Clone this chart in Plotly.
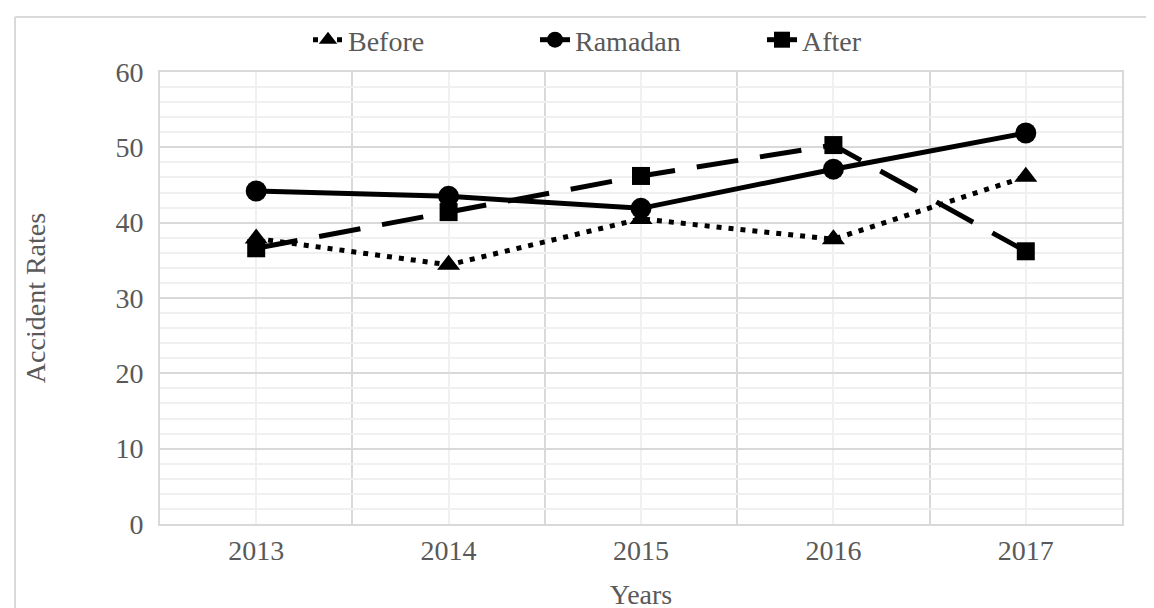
import plotly.graph_objects as go

years = [2013, 2014, 2015, 2016, 2017]
before = [37.9, 34.4, 40.5, 37.8, 46.1]
ramadan = [44.2, 43.5, 41.9, 47.1, 51.9]
after = [36.6, 41.4, 46.2, 50.3, 36.2]
y_ticks = [0, 10, 20, 30, 40, 50, 60]

FONT = "Liberation Serif"
GREY = "#595959"

W, H = 1154, 608
L, R, T, B = 152, 40, 64, 92
pw, ph = W - L - R, H - T - B

fig = go.Figure()
fig.add_trace(go.Scatter(
    x=years, y=before, name="Before", mode="lines+markers",
    line=dict(color="black", width=5, dash="5px,7px"),
    marker=dict(symbol="triangle-up", size=20, color="black")))
fig.add_trace(go.Scatter(
    x=years, y=ramadan, name="Ramadan", mode="lines+markers",
    line=dict(color="black", width=5),
    marker=dict(symbol="circle", size=21, color="black")))
fig.add_trace(go.Scatter(
    x=years, y=after, name="After", mode="lines+markers",
    line=dict(color="black", width=5, dash="42px,22px"),
    marker=dict(symbol="square", size=18, color="black")))

# outer frame (left and top edges)
fig.add_shape(type="line", xref="paper", yref="paper",
              x0=(7 - L) / pw, x1=(7 - L) / pw,
              y0=1 + (T - 9) / ph, y1=-(B + 5) / ph,
              line=dict(color="#d9d9d9", width=2))
fig.add_shape(type="line", xref="paper", yref="paper",
              x0=(7 - L) / pw, x1=1 + (R + 5) / pw,
              y0=1 + (T - 9) / ph, y1=1 + (T - 9) / ph,
              line=dict(color="#d9d9d9", width=2))

fig.update_layout(
    width=W, height=H,
    margin=dict(l=L, r=R, t=T, b=B, autoexpand=False),
    paper_bgcolor="white", plot_bgcolor="white",
    font=dict(family=FONT, size=28, color=GREY),
    showlegend=True,
    legend=dict(orientation="h", x=(300 - L) / pw, xanchor="left",
                y=1 + (T - 32) / ph, yanchor="middle",
                font=dict(family=FONT, size=28, color=GREY),
                itemwidth=30, entrywidth=182, entrywidthmode="pixels",
                bgcolor="rgba(0,0,0,0)"),
)
fig.update_xaxes(
    range=[2012.5, 2017.5], tickmode="array", tickvals=years,
    ticktext=[str(y) for y in years],
    showgrid=True, gridcolor="#f0f0f0", gridwidth=2,
    minor=dict(tickmode="linear", tick0=2012.5, dtick=1, showgrid=True,
               gridcolor="#d9d9d9", gridwidth=2),
    showline=True, linecolor="#d9d9d9", linewidth=2, mirror=True,
    zeroline=False, ticks="", automargin=False,
    tickfont=dict(family=FONT, size=28, color=GREY),
    title=dict(text="Years", font=dict(family=FONT, size=28, color=GREY), standoff=20),
)
fig.update_yaxes(
    range=[0, 60], tickmode="array", tickvals=y_ticks,
    showgrid=True, gridcolor="#d9d9d9", gridwidth=2,
    minor=dict(tickmode="linear", tick0=0, dtick=2, showgrid=True,
               gridcolor="#f0f0f0", gridwidth=2),
    showline=True, linecolor="#d9d9d9", linewidth=2, mirror=True,
    zeroline=False, ticks="", ticklabelstandoff=9, automargin=False,
    tickfont=dict(family=FONT, size=28, color=GREY),
    title=dict(text="Accident Rates", font=dict(family=FONT, size=28, color=GREY), standoff=62),
)

fig.write_html("out.html")
